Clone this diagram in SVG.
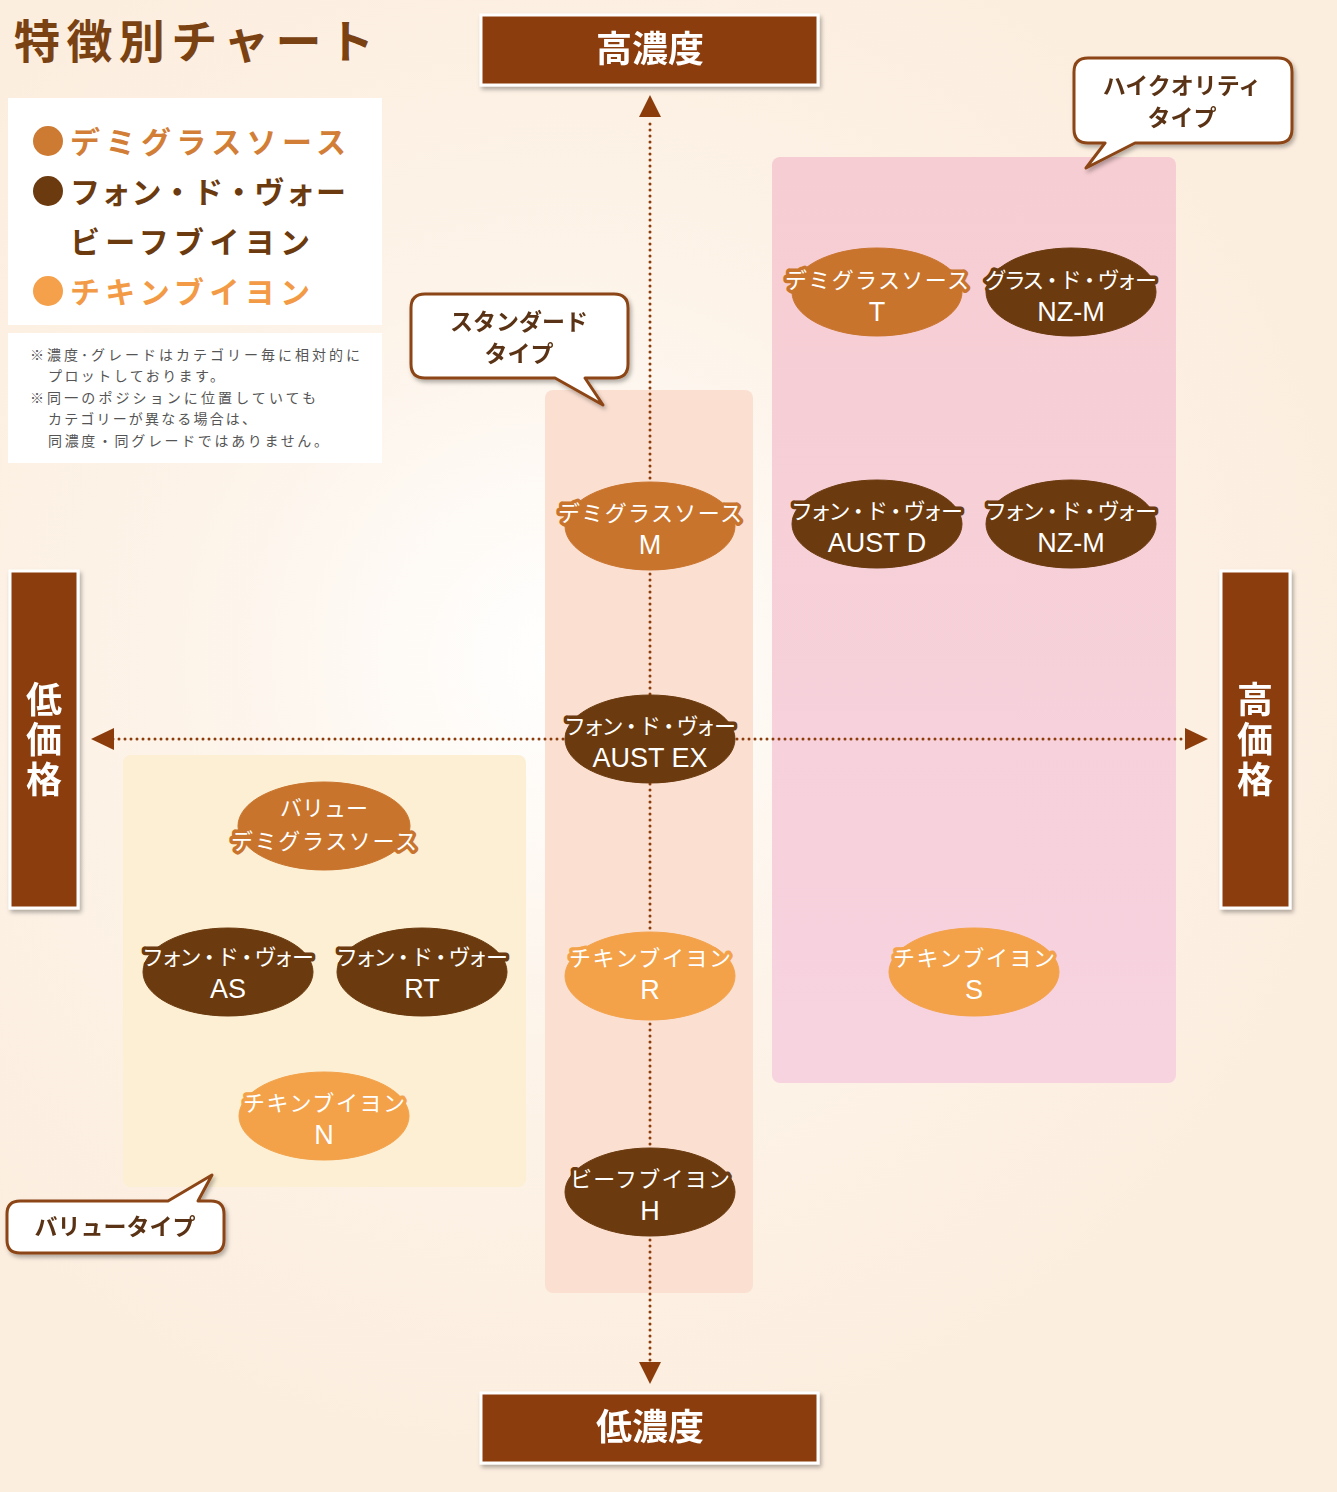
<svg xmlns="http://www.w3.org/2000/svg" width="1337" height="1492" viewBox="0 0 1337 1492">
<defs>
<radialGradient id="bg" cx="560" cy="660" r="800" gradientUnits="userSpaceOnUse">
<stop offset="0" stop-color="#FFFFFF"/>
<stop offset="0.5" stop-color="#FDF3E8"/>
<stop offset="1" stop-color="#FCEEDF"/>
</radialGradient>
<linearGradient id="hq" x1="0" y1="0" x2="0" y2="1">
<stop offset="0" stop-color="#F6CDD2"/>
<stop offset="1" stop-color="#F7D3E0"/>
</linearGradient>
<filter id="sh" x="-10%" y="-10%" width="130%" height="130%">
<feDropShadow dx="2" dy="3" stdDeviation="2" flood-color="#000" flood-opacity="0.3"/>
</filter>
</defs>
<style>
.jp{font-family:"Noto Sans CJK JP","Noto Sans",sans-serif;font-weight:bold}
.axbox{fill:#8C3C0A;stroke:#FFFFFF;stroke-width:3}
.axt{fill:#FFFFFF;font-size:36px;text-anchor:middle}
.vt{writing-mode:vertical-rl;letter-spacing:4px}
.axis{stroke:#8C3C0A;stroke-width:3;stroke-linecap:round;stroke-dasharray:0 6;fill:none}
.call{fill:#FFFFFF;stroke:#8B4513;stroke-width:3;stroke-linejoin:round}
.callt{fill:#5A3212;font-size:23px;text-anchor:middle}
.nt{font-family:"Noto Sans CJK JP","Noto Sans",sans-serif;font-weight:normal;font-size:22px;text-anchor:middle;stroke-width:7;paint-order:stroke;stroke-linejoin:round}
.nl{fill:#FFFFFF;font-size:27px;text-anchor:middle;font-family:"Liberation Sans","Noto Sans",sans-serif;font-weight:normal}
.demi{fill:#C9742D;stroke:#C9742D}
.fond{fill:#6B3A0E;stroke:#6B3A0E}
.chick{fill:#F3A24A;stroke:#F3A24A}
.nt.demi,.nt.fond,.nt.chick{fill:#FFFFFF}
.note{fill:#555555;font-size:14px;font-weight:normal}
.leg{font-size:30px}
</style>
<rect x="0" y="0" width="1337" height="1492" fill="url(#bg)"/>

<text class="jp" x="14" y="58" font-size="46" fill="#7A4212" textLength="360">特徴別チャート</text>

<g id="legend">
<rect x="8" y="98" width="374" height="227" fill="#FFFFFF"/>
<circle cx="48" cy="141" r="15" fill="#CD7A33"/>
<text class="jp leg" x="70" y="153" fill="#D27E36" textLength="276">デミグラスソース</text>
<circle cx="48" cy="191" r="15" fill="#6B3A0E"/>
<text class="jp leg" x="70" y="203" fill="#6B3A0E" textLength="276">フォン・ド・ヴォー</text>
<text class="jp leg" x="70" y="253" fill="#6B3A0E" textLength="240">ビーフブイヨン</text>
<circle cx="48" cy="291" r="15" fill="#F5A04A"/>
<text class="jp leg" x="70" y="303" fill="#F29A45" textLength="240">チキンブイヨン</text>
</g>
<g id="notes">
<rect x="8" y="333" width="374" height="130" fill="#FFFFFF"/>
<text class="jp note" x="30" y="360" textLength="330">※濃度･グレードはカテゴリー毎に相対的に</text>
<text class="jp note" x="48" y="381" textLength="176">プロットしております。</text>
<text class="jp note" x="30" y="403" textLength="286">※同一のポジションに位置していても</text>
<text class="jp note" x="48" y="424" textLength="208">カテゴリーが異なる場合は、</text>
<text class="jp note" x="48" y="446" textLength="280">同濃度・同グレードではありません。</text>
</g>

<g id="regions">
<rect x="545" y="390" width="208" height="903" rx="8" fill="#FBE0D2"/>
<rect x="772" y="157" width="404" height="926" rx="8" fill="url(#hq)"/>
<rect x="123" y="755" width="403" height="432" rx="8" fill="#FCEFD3"/>
</g>

<g id="connectors">
<line class="axis" x1="650" y1="1360" x2="650" y2="118"/>
<line class="axis" x1="113" y1="739" x2="1185" y2="739"/>
<path d="M639,117 L661,117 L650,95 Z" fill="#8C3C0A"/>
<path d="M639,1362 L661,1362 L650,1384 Z" fill="#8C3C0A"/>
<path d="M114,728 L114,750 L91,739 Z" fill="#8C3C0A"/>
<path d="M1185,728 L1185,750 L1208,739 Z" fill="#8C3C0A"/>
</g>

<g id="axis-top" filter="url(#sh)">
<rect class="axbox" x="481" y="15" width="337" height="70"/>
<text class="jp axt" x="650" y="62">高濃度</text>
</g>
<g id="axis-bottom" filter="url(#sh)">
<rect class="axbox" x="481" y="1393" width="337" height="70"/>
<text class="jp axt" x="650" y="1440">低濃度</text>
</g>
<g id="axis-left" filter="url(#sh)">
<rect class="axbox" x="10" y="571" width="68" height="337"/>
<text class="jp axt vt" x="44" y="741">低価格</text>
</g>
<g id="axis-right" filter="url(#sh)">
<rect class="axbox" x="1221" y="571" width="69" height="337"/>
<text class="jp axt vt" x="1255" y="741">高価格</text>
</g>

<g id="callout-standard" filter="url(#sh)">
<path class="call" d="M425,294 H614 Q628,294 628,308 V364 Q628,378 614,378 H585 L603,405 L555,378 H425 Q411,378 411,364 V308 Q411,294 425,294 Z"/>
<text class="jp callt" x="519" y="330">スタンダード<tspan x="519" dy="32">タイプ</tspan></text>
</g>
<g id="callout-high" filter="url(#sh)">
<path class="call" d="M1088,58 H1278 Q1292,58 1292,72 V129 Q1292,143 1278,143 H1135 L1086,168 L1105,143 H1088 Q1074,143 1074,129 V72 Q1074,58 1088,58 Z"/>
<text class="jp callt" x="1182" y="94">ハイクオリティ<tspan x="1182" dy="32">タイプ</tspan></text>
</g>
<g id="callout-value" filter="url(#sh)">
<path class="call" d="M20,1201 H168 L212,1175 L198,1201 H211 Q224,1201 224,1214 V1240 Q224,1253 211,1253 H20 Q7,1253 7,1240 V1214 Q7,1201 20,1201 Z"/>
<text class="jp callt" x="115" y="1235">バリュータイプ</text>
</g>

<g id="node-demi-t">
<ellipse class="demi" cx="877" cy="292" rx="85" ry="44"/>
<text class="nt demi" x="877" y="288" textLength="184">デミグラスソース</text>
<text class="nl" x="877" y="321">T</text>
</g>
<g id="node-glace-nzm">
<ellipse class="fond" cx="1071" cy="292" rx="85" ry="44"/>
<text class="nt fond" x="1071" y="288" textLength="172">グラス・ド・ヴォー</text>
<text class="nl" x="1071" y="321">NZ-M</text>
</g>
<g id="node-demi-m">
<ellipse class="demi" cx="650" cy="526" rx="85" ry="44"/>
<text class="nt demi" x="650" y="521" textLength="184">デミグラスソース</text>
<text class="nl" x="650" y="554">M</text>
</g>
<g id="node-fond-austd">
<ellipse class="fond" cx="877" cy="524" rx="85" ry="44"/>
<text class="nt fond" x="877" y="519" textLength="172">フォン・ド・ヴォー</text>
<text class="nl" x="877" y="552">AUST D</text>
</g>
<g id="node-fond-nzm">
<ellipse class="fond" cx="1071" cy="524" rx="85" ry="44"/>
<text class="nt fond" x="1071" y="519" textLength="172">フォン・ド・ヴォー</text>
<text class="nl" x="1071" y="552">NZ-M</text>
</g>
<g id="node-fond-austex">
<ellipse class="fond" cx="650" cy="739" rx="85" ry="44"/>
<text class="nt fond" x="650" y="734" textLength="172">フォン・ド・ヴォー</text>
<text class="nl" x="650" y="767">AUST EX</text>
</g>
<g id="node-value-demi">
<ellipse class="demi" cx="324" cy="826" rx="86" ry="44"/>
<text class="nt demi" x="324" y="816" textLength="88">バリュー</text>
<text class="nt demi" x="324" y="849" textLength="186">デミグラスソース</text>
</g>
<g id="node-fond-as">
<ellipse class="fond" cx="228" cy="972" rx="85" ry="44"/>
<text class="nt fond" x="228" y="965" textLength="172">フォン・ド・ヴォー</text>
<text class="nl" x="228" y="998">AS</text>
</g>
<g id="node-fond-rt">
<ellipse class="fond" cx="422" cy="972" rx="85" ry="44"/>
<text class="nt fond" x="422" y="965" textLength="172">フォン・ド・ヴォー</text>
<text class="nl" x="422" y="998">RT</text>
</g>
<g id="node-chick-r">
<ellipse class="chick" cx="650" cy="976" rx="85" ry="44"/>
<text class="nt chick" x="650" y="966" textLength="162">チキンブイヨン</text>
<text class="nl" x="650" y="999">R</text>
</g>
<g id="node-chick-s">
<ellipse class="chick" cx="974" cy="972" rx="85" ry="44"/>
<text class="nt chick" x="974" y="966" textLength="162">チキンブイヨン</text>
<text class="nl" x="974" y="999">S</text>
</g>
<g id="node-chick-n">
<ellipse class="chick" cx="324" cy="1116" rx="85" ry="44"/>
<text class="nt chick" x="324" y="1111" textLength="162">チキンブイヨン</text>
<text class="nl" x="324" y="1144">N</text>
</g>
<g id="node-beef-h">
<ellipse class="fond" cx="650" cy="1192" rx="85" ry="44"/>
<text class="nt fond" x="650" y="1187" textLength="160">ビーフブイヨン</text>
<text class="nl" x="650" y="1220">H</text>
</g>
</svg>
